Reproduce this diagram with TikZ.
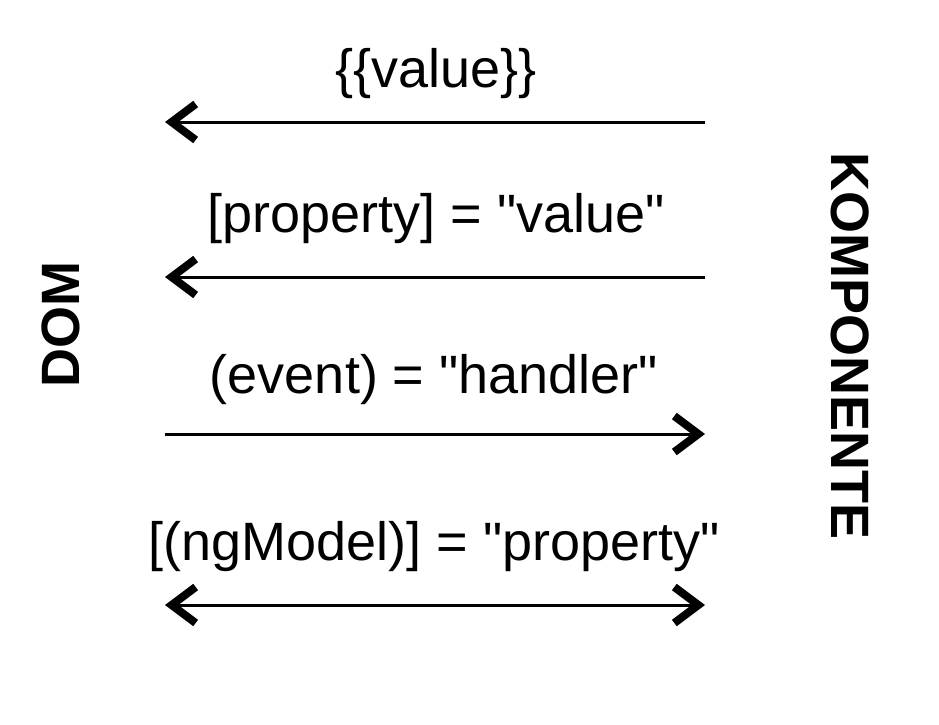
\documentclass[tikz,border=0pt]{standalone}
\usepackage{fontspec}
\setmainfont{Liberation Sans}
\usetikzlibrary{arrows.meta}
\newcommand\dq{\XeTeXglyph\XeTeXcharglyph"22\relax}
\begin{document}
\begin{tikzpicture}[x=1pt,y=-1pt,
  lbl/.style={anchor=base,inner sep=0pt,font=\fontsize{54}{64}\selectfont},
  side/.style={inner sep=0pt,font=\fontsize{54}{64}\selectfont\bfseries},
  barb/.tip={Straight Barb[length=24pt,width=36pt,line width=8pt]},
  conn/.style={line width=3pt,-barb},
  bconn/.style={line width=3pt,barb-barb}]
\useasboundingbox (0,0) rectangle (939,724);
\fill[white] (0,0) rectangle (939,724);
% side labels
\node[side,rotate=90] (dom) at (61,324) {DOM};
\node[side,rotate=-90] (komp) at (850,346) {KOMPONENTE};
% endpoints
\coordinate (l1) at (165,122); \coordinate (r1) at (705,122);
\coordinate (l2) at (165,277); \coordinate (r2) at (705,277);
\coordinate (l3) at (165,434); \coordinate (r3) at (705,434);
\coordinate (l4) at (165,605); \coordinate (r4) at (705,605);
% labels
\node[lbl] (t1) at (436,87) {\{\{value\}\}};
\node[lbl] (t2) at (436,232) {[property] = \dq value\dq};
\node[lbl] (t3) at (434,393) {(event) = \dq handler\dq};
\node[lbl] (t4) at (434,560) {[(ngModel)] = \dq property\dq};
% connectors
\draw[conn] (r1) -- (l1);
\draw[conn] (r2) -- (l2);
\draw[conn] (l3) -- (r3);
\draw[bconn] (l4) -- (r4);
\end{tikzpicture}
\end{document}
